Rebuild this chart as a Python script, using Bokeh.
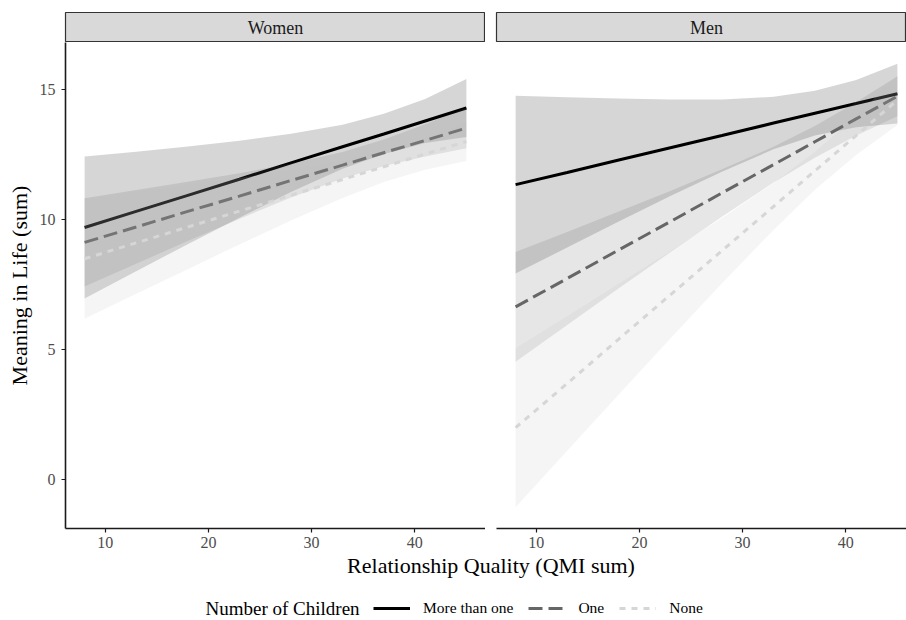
from bokeh.plotting import figure
from bokeh.models import Range1d, FixedTicker, Label, Legend, LegendItem
from bokeh.layouts import column, row
from bokeh.embed import file_html
from bokeh.resources import INLINE

FONT = "Liberation Serif"

# ---------------- data ----------------
PANELS = ["Women", "Men"]
GROUPS = ["More than one", "One", "None"]
X_TICKS = [10, 20, 30, 40]
Y_TICKS = [0, 5, 10, 15]
QMI = [8, 13, 18, 23, 28, 33, 37, 41, 45]

women_more_fit = [9.70, 10.32, 10.94, 11.56, 12.19, 12.81, 13.30, 13.80, 14.30]
women_more_lo = [6.97, 8.02, 9.06, 10.08, 11.07, 11.96, 12.53, 12.95, 13.18]
women_more_hi = [12.43, 12.62, 12.82, 13.04, 13.31, 13.66, 14.08, 14.65, 15.42]
women_one_fit = [9.13, 9.72, 10.32, 10.91, 11.51, 12.10, 12.58, 13.05, 13.53]
women_one_lo = [7.43, 8.31, 9.18, 10.03, 10.86, 11.59, 12.07, 12.43, 12.75]
women_one_hi = [10.83, 11.14, 11.46, 11.79, 12.16, 12.61, 13.09, 13.67, 14.31]
women_none_fit = [8.50, 9.11, 9.72, 10.33, 10.94, 11.55, 12.04, 12.53, 13.01]
women_none_lo = [6.19, 7.15, 8.10, 9.05, 9.97, 10.84, 11.45, 11.92, 12.26]
women_none_hi = [10.81, 11.07, 11.34, 11.61, 11.91, 12.26, 12.64, 13.14, 13.76]

men_more_fit = [11.35, 11.82, 12.30, 12.77, 13.24, 13.72, 14.10, 14.47, 14.85]
men_more_lo = [7.93, 8.93, 9.93, 10.91, 11.85, 12.71, 13.24, 13.56, 13.70]
men_more_hi = [14.77, 14.71, 14.67, 14.63, 14.63, 14.73, 14.96, 15.38, 16.00]
men_one_fit = [6.65, 7.74, 8.84, 9.93, 11.03, 12.12, 13.00, 13.88, 14.75]
men_one_lo = [4.54, 5.95, 7.36, 8.75, 10.12, 11.43, 12.39, 13.24, 13.98]
men_one_hi = [8.76, 9.53, 10.32, 11.11, 11.94, 12.81, 13.61, 14.52, 15.52]
men_none_fit = [2.00, 3.70, 5.41, 7.11, 8.81, 10.51, 11.88, 13.24, 14.60]
men_none_lo = [-1.06, 1.11, 3.28, 5.43, 7.56, 9.61, 11.15, 12.49, 13.65]
men_none_hi = [5.06, 6.29, 7.54, 8.79, 10.07, 11.41, 12.61, 13.99, 15.55]

DATA = {
    "Women": {
        "More than one": (women_more_fit, women_more_lo, women_more_hi),
        "One": (women_one_fit, women_one_lo, women_one_hi),
        "None": (women_none_fit, women_none_lo, women_none_hi),
    },
    "Men": {
        "More than one": (men_more_fit, men_more_lo, men_more_hi),
        "One": (men_one_fit, men_one_lo, men_one_hi),
        "None": (men_none_fit, men_none_lo, men_none_hi),
    },
}

# ---------------- styles / layout ----------------
LINE_COLOR = {"More than one": "#000000", "One": "#666666", "None": "#d6d6d6"}
FILL_COLOR = {"More than one": "#000000", "One": "#666666", "None": "#bfbfbf"}
DASH = {"More than one": "solid", "One": "14 6", "None": "6 6"}
FILL_ALPHA = 0.16

W, H = 906, 620
LEFT = 65          # y-axis area
FW = 420           # full panel frame width
GAP = 11           # gap between panels
FW_R = W - LEFT - FW - GAP   # right panel is cut at the page edge, like the reference
STRIP_TOP = 12
STRIP_H = 30
FH = 486
BOTTOM = 22
BOT_H = H - STRIP_TOP - STRIP_H - FH - BOTTOM

X_LO, X_HI = 6.15, 46.85
x_range_l = Range1d(X_LO, X_HI)
x_range_r = Range1d(X_LO, X_LO + (X_HI - X_LO) * FW_R / FW)
y_range = Range1d(-1.88, 16.82)


def strip(title, left_border, fw, xr):
    s = figure(width=left_border + fw, height=STRIP_TOP + STRIP_H, x_range=xr,
               y_range=Range1d(0, 1), toolbar_location=None, output_backend="svg",
               min_border_left=left_border, min_border_right=0, min_border_top=STRIP_TOP,
               min_border_bottom=0, x_axis_location=None, y_axis_location=None)
    s.grid.visible = False
    s.background_fill_color = "#d9d9d9"
    s.border_fill_color = "white"
    s.outline_line_color = "#333333"
    s.outline_line_width = 1.2
    s.add_layout(Label(x=(X_LO + X_HI) / 2, y=0.5, text=title,
                       text_align="center", text_baseline="middle", text_font=FONT,
                       text_font_size="18px", text_color="#1a1a1a"))
    return s


def panel(name, left_border, fw, xr, show_y):
    p = figure(width=left_border + fw, height=FH + BOTTOM, x_range=xr, y_range=y_range,
               toolbar_location=None, output_backend="svg",
               min_border_left=left_border, min_border_right=0, min_border_top=0,
               min_border_bottom=BOTTOM, y_axis_location="left" if show_y else None)
    p.grid.visible = False
    p.outline_line_color = None
    p.background_fill_color = "white"
    p.border_fill_color = "white"
    for g in GROUPS:
        fit, lo, hi = DATA[name][g]
        p.varea(x=QMI, y1=lo, y2=hi, fill_color=FILL_COLOR[g], fill_alpha=FILL_ALPHA)
        p.line(x=QMI, y=fit, line_color=LINE_COLOR[g], line_width=3, line_dash=DASH[g])
    axes = [p.xaxis[0]] + ([p.yaxis[0]] if show_y else [])
    p.xaxis.ticker = FixedTicker(ticks=X_TICKS)
    p.xaxis.major_label_standoff = 4
    if show_y:
        p.yaxis.ticker = FixedTicker(ticks=Y_TICKS)
        p.yaxis.axis_label = "Meaning in Life (sum)"
        p.yaxis.axis_label_text_font = FONT
        p.yaxis.axis_label_text_font_size = "22px"
        p.yaxis.axis_label_text_font_style = "normal"
        p.yaxis.axis_label_text_color = "#000000"
        p.yaxis.axis_label_standoff = 5
        p.yaxis.major_label_standoff = 6
    for ax in axes:
        ax.minor_tick_line_color = None
        ax.major_tick_in = 0
        ax.major_tick_out = 4
        ax.major_tick_line_color = "#1a1a1a"
        ax.major_tick_line_width = 1.2
        ax.axis_line_color = "#1a1a1a"
        ax.axis_line_width = 1.6
        ax.major_label_text_font = FONT
        ax.major_label_text_font_size = "16px"
        ax.major_label_text_color = "#4d4d4d"
    return p


s_left = strip("Women", LEFT, FW, x_range_l)
s_right = strip("Men", GAP, FW_R, x_range_r)
p_left = panel("Women", LEFT, FW, x_range_l, True)
p_right = panel("Men", GAP, FW_R, x_range_r, False)

# bottom band: shared x-axis title and the legend
b = figure(width=W, height=BOT_H, x_range=Range1d(0, 1), y_range=Range1d(0, 1),
           toolbar_location=None, output_backend="svg", min_border_left=0,
           min_border_right=0, min_border_top=0, min_border_bottom=0,
           x_axis_location=None, y_axis_location=None)
b.grid.visible = False
b.outline_line_color = None

b.add_layout(Label(x=LEFT + (FW + GAP + FW) / 2, y=BOT_H - 15, x_units="screen", y_units="screen",
                   text="Relationship Quality (QMI sum)", text_align="center",
                   text_baseline="middle", text_font=FONT, text_font_size="22px",
                   text_color="#000000"))
b.add_layout(Label(x=205, y=12, x_units="screen", y_units="screen",
                   text="Number of Children", text_align="left", text_baseline="middle",
                   text_font=FONT, text_font_size="19px", text_color="#000000"))

# legend-only renderers (NaN data: nothing is drawn in the plot area)
NAN = [float("nan")]
items = []
for g in GROUPS:
    r = b.line(x=NAN, y=NAN, line_color=LINE_COLOR[g], line_width=3, line_dash=DASH[g])
    items.append(LegendItem(label=g, renderers=[r]))

leg = Legend(items=items, orientation="horizontal", location=(373, 2))
leg.glyph_width = 37
leg.glyph_height = 20
leg.label_height = 20
leg.label_standoff = 13
leg.spacing = 15
leg.padding = 0
leg.margin = 0
leg.border_line_color = None
leg.background_fill_alpha = 0
leg.label_text_font = FONT
leg.label_text_font_size = "15.5px"
leg.label_text_color = "#000000"
b.add_layout(leg, "center")

layout = column(row(s_left, s_right), row(p_left, p_right), b)

open("out.html", "w").write(file_html(layout, INLINE))
